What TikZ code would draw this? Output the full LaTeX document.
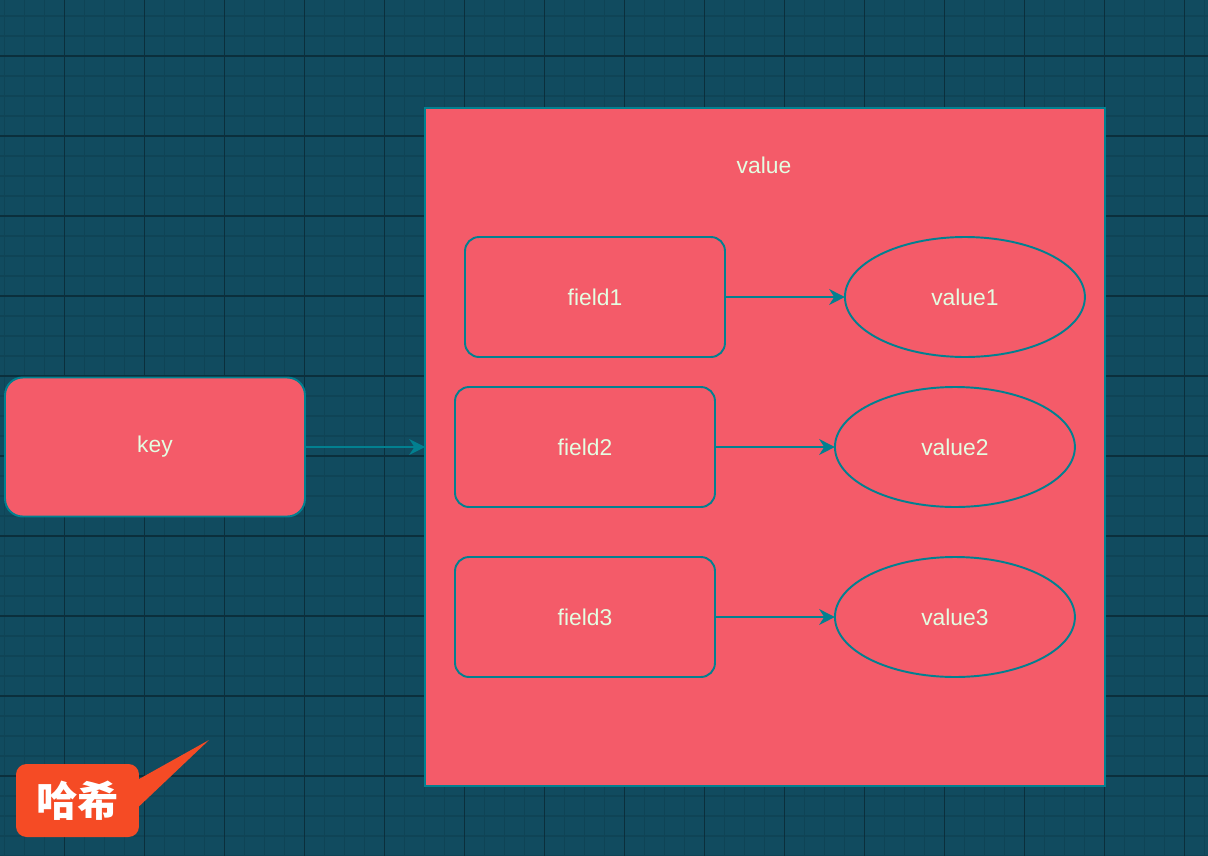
\documentclass[tikz,border=0pt]{standalone}
\usepackage{fontspec}
\usepackage{xcolor}
\usetikzlibrary{arrows.meta, positioning, shapes.geometric}
\setmainfont{Liberation Sans}
\newfontfamily\cjk{Noto Sans CJK SC}

\definecolor{bgteal}{HTML}{114B5F}
\definecolor{gridminor}{HTML}{0F4456}
\definecolor{gridmajor}{HTML}{0B2F3C}
\definecolor{boxred}{HTML}{F45B69}
\definecolor{edgeteal}{HTML}{028090}
\definecolor{mint}{HTML}{E4FDE1}
\definecolor{calloutred}{HTML}{F54B25}

\begin{document}
\begin{tikzpicture}[x=0.02cm, y=-0.02cm, >={Stealth[length=9pt, width=9pt]},
    every node/.style={font=\fontsize{13}{15}\selectfont, text=mint},
    redbox/.style={draw=edgeteal, fill=boxred, line width=1.1pt, rounded corners=8pt,
        minimum width=5.2cm, minimum height=2.4cm, inner sep=0pt, outer sep=0pt},
    redoval/.style={ellipse, draw=edgeteal, fill=boxred, line width=1.1pt,
        minimum width=4.8cm, minimum height=2.4cm, inner sep=0pt, outer sep=0pt},
    link/.style={->, draw=edgeteal, line width=1.1pt}]
    \useasboundingbox (0,0) rectangle (1208,856);

    % Background grid
    \fill[bgteal] (0,0) rectangle (1208,856);
    \foreach \x in {0,...,60} \draw[gridminor, line width=1pt] (4.5+20*\x,0) -- (4.5+20*\x,856);
    \foreach \y in {0,...,42} \draw[gridminor, line width=1pt] (0,16+20*\y) -- (1208,16+20*\y);
    \foreach \x in {0,...,14} \draw[gridmajor, line width=1pt] (64.5+80*\x,0) -- (64.5+80*\x,856);
    \foreach \y in {0,...,9} \draw[gridmajor, line width=1pt] (0,56+80*\y) -- (1208,56+80*\y);

    % Nodes
    \node[redbox, rounded corners=10pt, minimum width=6cm, minimum height=2.78cm] (key) at (155,447) {key};
    \node[draw=edgeteal, fill=boxred, line width=1.1pt, minimum width=13.6cm, minimum height=13.58cm,
        inner sep=0pt, outer sep=0pt] (hash) at (765,447) {};
    \node (hashlbl) at (764,165) {value};

    \node[redbox] (field1) at (595,297) {field1};
    \node[redbox] (field2) at (585,447) {field2};
    \node[redbox] (field3) at (585,617) {field3};
    \node[redoval, right=2.4cm of field1] (value1) {value1};
    \node[redoval, right=2.4cm of field2] (value2) {value2};
    \node[redoval, right=2.4cm of field3] (value3) {value3};

    % Arrows
    \draw[link] (key) -- (hash);
    \draw[link] (field1) -- (value1);
    \draw[link] (field2) -- (value2);
    \draw[link] (field3) -- (value3);

    % Callout
    \node[fill=calloutred, rounded corners=6pt, minimum width=2.46cm, minimum height=1.46cm,
        inner sep=0pt, text=white, font=\cjk\bfseries\fontsize{23.5}{26}\selectfont] (tag) at (77.5,800.5) {哈希};
    \coordinate (tip) at (209,740);
    \fill[calloutred] ([shift={(-2,-20.5)}]tag.east) -- (tip) -- ([shift={(-2,7.5)}]tag.east) -- cycle;
\end{tikzpicture}
\end{document}
